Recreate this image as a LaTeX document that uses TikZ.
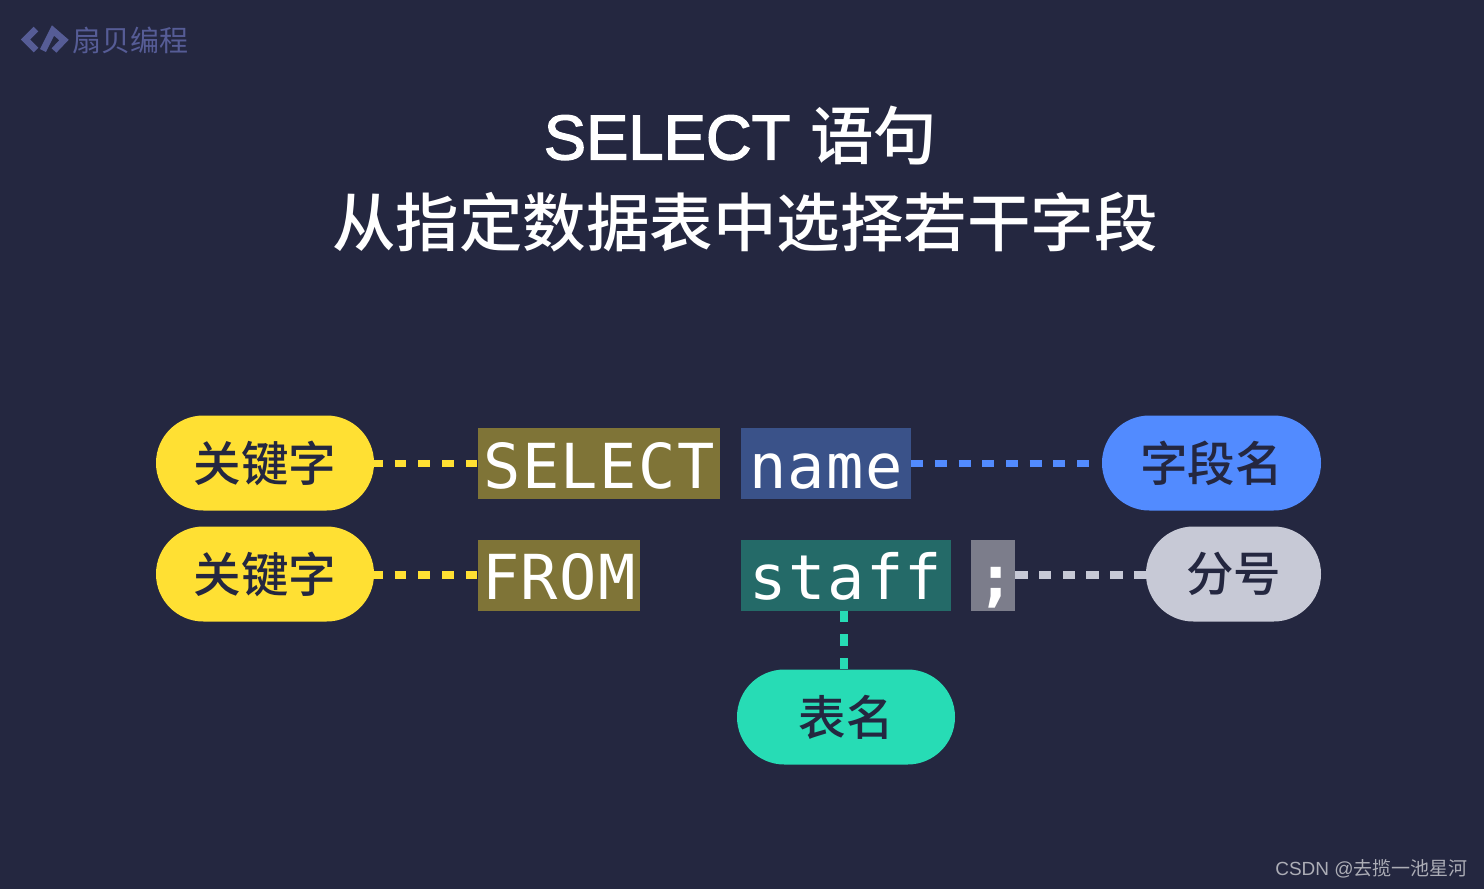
\documentclass[tikz,border=0pt]{standalone}
\usepackage{fontspec}
\setmainfont{Liberation Sans}
\newfontfamily\titlelat[FakeBold=2]{Liberation Sans}
\newfontfamily\cjk{Noto Sans CJK SC}
\newfontfamily\cjkt{Noto Sans CJK SC Medium}
\newfontfamily\cjkm{Noto Sans CJK SC Medium}
\newfontfamily\codef[LetterSpace=2.2]{DejaVu Sans Mono}
\definecolor{bgc}{HTML}{242740}
\definecolor{ylw}{HTML}{FFE033}
\definecolor{blu}{HTML}{528BFF}
\definecolor{gry}{HTML}{C7C9D6}
\definecolor{grn}{HTML}{27DCB5}
\definecolor{ylwd}{HTML}{7F7437}
\definecolor{blud}{HTML}{3A5289}
\definecolor{gryd}{HTML}{7C7D8B}
\definecolor{grnd}{HTML}{246A68}
\definecolor{logoc}{HTML}{565C96}
\tikzset{
 pill/.style={inner sep=0pt,minimum height=95pt,rounded corners=47.4pt,text=bgc,font=\cjkm\fontsize{47.5}{48}\selectfont},
 code/.style={inner sep=0pt,minimum height=71pt,text height=60pt,text depth=11pt,text=white,font=\codef\fontsize{62}{63}\selectfont},
 link/.style={line width=7.8pt},
}
\begin{document}
\begin{tikzpicture}[x=1pt,y=-1pt]
\fill[bgc] (0,0) rectangle (1484,889);
\useasboundingbox (0,0) rectangle (1484,889);
% logo
\draw[logoc,line width=6.5pt] (36,29) -- (25.5,39.5) -- (36,50);
\draw[logoc,line width=6.5pt] (43,50.5) -- (53,30.5) -- (64,40) -- (54,50.5);
\node[text=logoc,font=\cjk\fontsize{29}{29}\selectfont,inner sep=0pt] (logo) at (130.5,40) {扇贝编程};
% title
\node[text=white,inner sep=0pt] (t1) at (740.5,135.5) {\fontsize{63.4}{64}\selectfont\titlelat SELECT\hspace{20pt}\cjkt 语句};
\node[text=white,inner sep=0pt,font=\cjkt\fontsize{63.5}{64}\selectfont] (t2) at (745,222.5) {从指定数据表中选择若干字段};
% code
\node[code,fill=ylwd,minimum width=242pt] (select) at (599,463.5) {SELECT};
\node[code,fill=blud,minimum width=170pt] (name) at (826,463.5) {name};
\node[code,fill=ylwd,minimum width=162pt] (from) at (559,575) {FROM};
\node[code,fill=grnd,minimum width=210pt] (staff) at (846,575) {staff};
\node[code,fill=gryd,minimum width=44pt] (semi) at (993,575) {\hspace{7pt}\bfseries;};
% pills
\node[pill,fill=ylw,minimum width=218pt] (kw1) at (265,463) {关键字};
\node[pill,fill=ylw,minimum width=218pt] (kw2) at (265,574) {关键字};
\node[pill,fill=blu,minimum width=219pt] (field) at (1211.5,463) {字段名};
\node[pill,fill=gry,minimum width=175pt] (semil) at (1233.5,574) {分号};
\node[pill,fill=grn,minimum width=218pt] (tbl) at (846,717) {表名};
% connectors
\draw[link,ylw,dash pattern=on 11.5pt off 12.2pt,dash phase=3.2pt] (kw1.east |- select.west) -- (select.west);
\draw[link,ylw,dash pattern=on 11.5pt off 12.2pt,dash phase=3.2pt] (kw2.east |- from.west) -- (from.west);
\draw[link,blu,dash pattern=on 12pt off 11.7pt,shorten >=4pt] (name.east) -- (field.west |- name.east);
\draw[link,gry,dash pattern=on 12.4pt off 11.3pt] (semi.east) -- (semil.west |- semi.east);
\draw[link,grn,dash pattern=on 11.7pt off 12pt] ([xshift=-2pt]staff.south) -- ([xshift=-2pt]tbl.north);
\node[text=white!62!bgc,inner sep=0pt,font=\fontsize{19}{19}\selectfont] (mark) at (1371.5,869) {CSDN @{\cjk 去揽一池星河}};
\end{tikzpicture}
\end{document}
